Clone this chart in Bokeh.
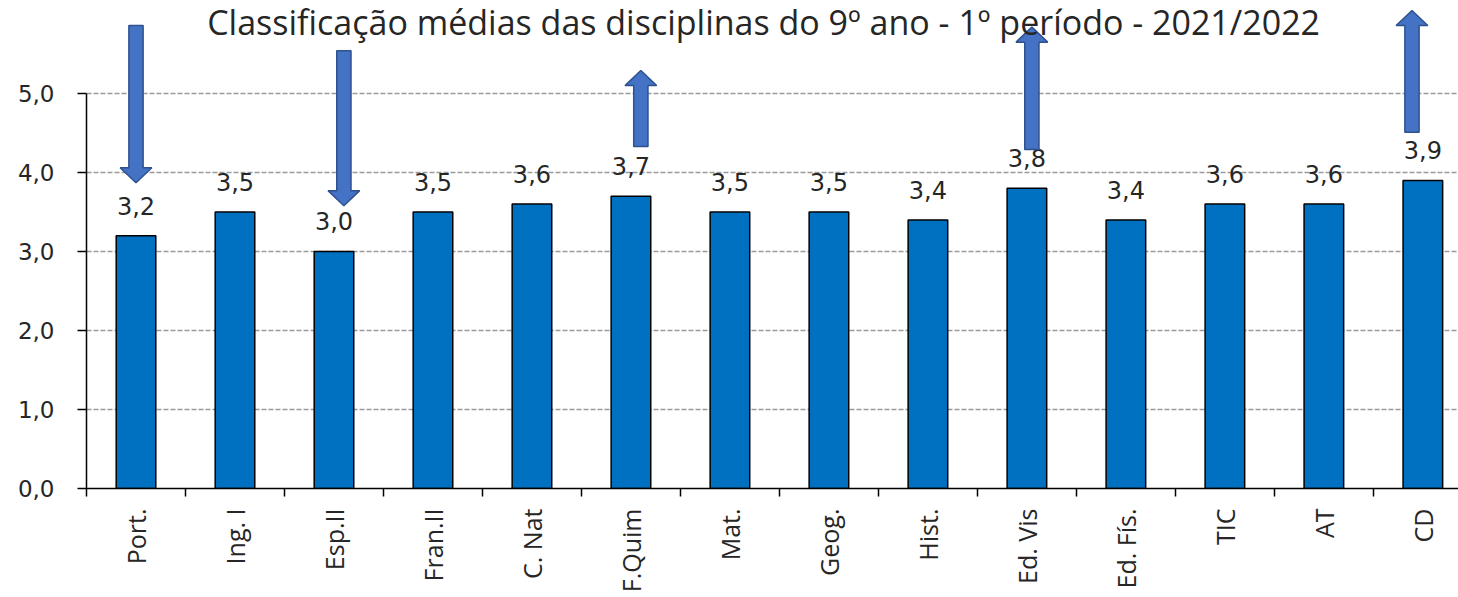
import math
from bokeh.plotting import figure
from bokeh.models import Range1d, FixedTicker, Label, ColumnDataSource
from bokeh.embed import file_html
from bokeh.resources import INLINE
from bokeh.core.properties import value

# ---------------- data ----------------
categories = ["Port.", "Ing. I", "Esp.II", "Fran.II", "C. Nat", "F.Quim", "Mat.",
              "Geog.", "Hist.", "Ed. Vis", "Ed. Fís.", "TIC", "AT", "CD"]
averages = [3.2, 3.5, 3.0, 3.5, 3.6, 3.7, 3.5, 3.5, 3.4, 3.8, 3.4, 3.6, 3.6, 3.9]

y_ticks = [0, 1, 2, 3, 4, 5]
y_tick_labels = ["0,0", "1,0", "2,0", "3,0", "4,0", "5,0"]

title_text = "Classificação médias das disciplinas do 9º ano - 1º período - 2021/2022"

# annotation arrows (category, start value, end value)
arrow_category = ["Port.", "Esp.II", "F.Quim", "Ed. Vis", "CD"]
arrow_from = [5.86, 5.54, 4.33, 4.29, 4.51]
arrow_to = [3.87, 3.58, 5.29, 5.84, 6.05]
arrow_shift = [0.0, 0.1, 0.1, 0.05, -0.11]

# ---------------- figure ----------------
TXT = "#262626"
p = figure(width=1458, height=597, output_backend="svg", toolbar_location=None,
           x_range=Range1d(0, 13.86), y_range=Range1d(0, 6.177),
           min_border_left=86, min_border_right=0, min_border_top=0,
           min_border_bottom=109)
p.outline_line_color = None
p.background_fill_color = "white"

centers = [i + 0.5 for i in range(len(categories))]
labels_txt = [f"{v:.1f}".replace(".", ",") for v in averages]
src = ColumnDataSource(dict(x=centers, top=averages, lab=labels_txt))

p.vbar(x="x", top="top", bottom=0, width=0.4, source=src,
       fill_color="#0070C0", line_color="black", line_width=1.5)

p.text(x="x", y="top", text="lab", source=src, text_align="center",
       text_baseline="alphabetic", y_offset=-30,
       text_font=value("DejaVu Sans"), text_font_size="24px", text_color=TXT)

# arrows as block polygons
xs, ys = [], []
bw, hw, hl = 0.072, 0.16, 0.19
for cat, a, b, s in zip(arrow_category, arrow_from, arrow_to, arrow_shift):
    xc = categories.index(cat) + 0.5 + s
    d = 1 if b > a else -1
    hb = b - d * hl
    xs.append([xc - bw, xc - bw, xc - hw, xc, xc + hw, xc + bw, xc + bw])
    ys.append([a, hb, hb, b, hb, hb, a])
p.patches(xs, ys, fill_color="#4472C4", line_color="#2F528F", line_width=1.5)

# title
p.add_layout(Label(x=6.84, y=5.9, text=title_text, text_align="center",
                   text_baseline="middle", text_font="Open Sans",
                   text_font_size="34px", text_color=TXT))

# x axis
xa = p.xaxis[0]
xa.ticker = FixedTicker(ticks=centers, minor_ticks=list(range(len(categories) + 1)))
xa.major_label_overrides = {c: n for c, n in zip(centers, categories)}
xa.major_tick_line_color = None
xa.minor_tick_line_color = "black"
xa.minor_tick_out = 8
xa.minor_tick_in = 0
xa.minor_tick_line_width = 1.5
xa.axis_line_color = "black"
xa.axis_line_width = 1.5
xa.major_label_orientation = math.pi / 2
xa.major_label_standoff = 12
xa.major_label_text_font = "Open Sans"
xa.major_label_text_font_size = "25px"
xa.major_label_text_color = TXT

# y axis
ya = p.yaxis[0]
ya.ticker = FixedTicker(ticks=y_ticks)
ya.bounds = (0, 5)
ya.major_label_overrides = {t: l for t, l in zip(y_ticks, y_tick_labels)}
ya.minor_tick_line_color = None
ya.major_tick_out = 9
ya.major_tick_in = 0
ya.major_tick_line_width = 1.5
ya.axis_line_width = 1.5
ya.major_label_standoff = 23
ya.major_label_text_font = "DejaVu Sans"
ya.major_label_text_font_size = "23px"
ya.major_label_text_color = TXT

p.xgrid.visible = False
p.ygrid.ticker = FixedTicker(ticks=y_ticks[1:])
p.ygrid.grid_line_color = "#9a9a9a"
p.ygrid.grid_line_dash = "5 2"
p.ygrid.grid_line_width = 1.5

open("out.html", "w").write(file_html(p, INLINE))
